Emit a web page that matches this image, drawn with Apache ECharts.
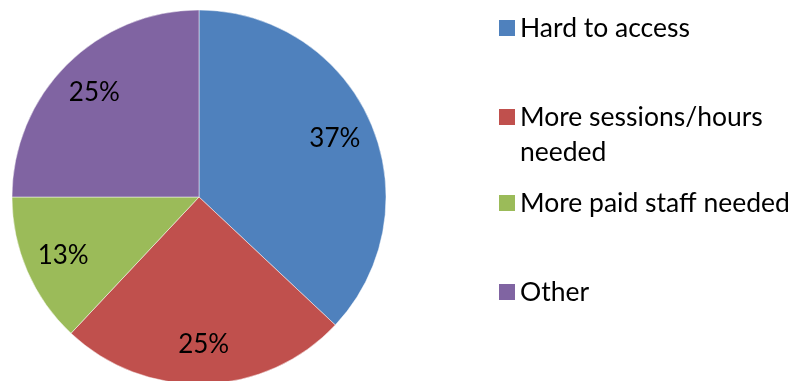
<!DOCTYPE html>
<html>
<head>
<meta charset="utf-8">
<script src="https://cdn.jsdelivr.net/npm/echarts@6/dist/echarts.min.js"></script>
<style>
  html, body { margin: 0; padding: 0; background: #fff; }
  #chart { width: 800px; height: 381px; }
</style>
</head>
<body>
<div id="chart"></div>
<script>
// Reasons given, share of responses (%)
const categories = ['Hard to access', 'More sessions/hours\nneeded', 'More paid staff needed', 'Other'];
const shares = [37, 25, 13, 25];
const colors = ['#4F81BD', '#C0504D', '#9BBB59', '#8064A2'];

const FONT = 'Lato';
const center = [199, 197];
const LINE = 35;

const pieData = categories.map((name, i) => ({ name, value: shares[i], itemStyle: { color: colors[i] } }));

// One legend per entry so each can sit at its own height.
// The wrapped entry gets a leading blank line so its swatch lines up with the first text line.
const legendTops = [10.5, 64.5, 185.5, 274.5];
const legends = categories.map((name, i) => ({
  show: true,
  left: 499,
  top: legendTops[i],
  padding: 0,
  orient: 'vertical',
  icon: 'rect',
  itemWidth: 16,
  itemHeight: 16,
  itemGap: 0,
  selectedMode: false,
  data: [name],
  itemStyle: { borderWidth: 0 },
  formatter: n => (n.indexOf('\n') >= 0 ? '\n' + n : n),
  textStyle: { fontFamily: FONT, fontSize: 26.5, color: '#000', lineHeight: LINE }
}));

const chart = echarts.init(document.getElementById('chart'), null, { renderer: 'canvas' });
chart.setOption({
  animation: false,
  backgroundColor: '#fff',
  legend: legends,
  series: [
    {
      type: 'pie',
      center,
      radius: [0, 187],
      startAngle: 90,
      clockwise: true,
      data: pieData,
      label: { show: false },
      labelLine: { show: false },
      itemStyle: { borderColor: 'rgba(255,255,255,0.6)', borderWidth: 0.8 },
      emphasis: { disabled: true }
    },
    {
      // label ring: transparent wedges whose midpoints sit at the label radius
      type: 'pie',
      center,
      radius: [0, 290],
      startAngle: 90,
      clockwise: true,
      silent: true,
      legendHoverLink: false,
      data: categories.map((name, i) => ({ name, value: shares[i] })),
      itemStyle: { color: 'rgba(0,0,0,0)' },
      label: {
        show: true,
        position: 'inside',
        formatter: p => p.value + '%',
        fontFamily: FONT,
        fontSize: 26,
        color: '#000'
      },
      labelLine: { show: false },
      emphasis: { disabled: true }
    }
  ]
});
</script>
</body>
</html>
